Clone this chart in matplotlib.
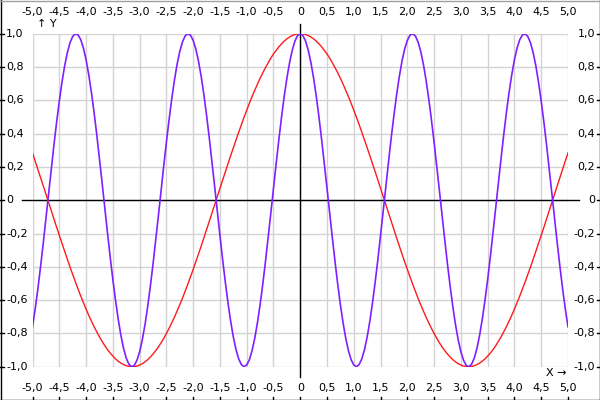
import numpy as np
import matplotlib
matplotlib.use('Agg')
import matplotlib.pyplot as plt
from matplotlib.transforms import blended_transform_factory
from matplotlib.lines import Line2D

# sample positions along x
x = np.linspace(-5, 5, 201)

# red curve (x = -5.00 ... 5.00, step 0.05)
red_y = [
    0.284, 0.235, 0.187, 0.137, 0.087, 0.038, -0.012, -0.063, -0.112, -0.162,
    -0.211, -0.259, -0.307, -0.355, -0.401, -0.446, -0.490, -0.533, -0.575, -0.615,
    -0.654, -0.691, -0.726, -0.760, -0.791, -0.821, -0.848, -0.874, -0.897, -0.918,
    -0.936, -0.953, -0.967, -0.978, -0.987, -0.994, -0.998, -1.000, -0.999, -0.996,
    -0.990, -0.982, -0.971, -0.958, -0.942, -0.924, -0.904, -0.882, -0.857, -0.830,
    -0.801, -0.770, -0.737, -0.703, -0.666, -0.628, -0.589, -0.547, -0.505, -0.461,
    -0.416, -0.370, -0.323, -0.276, -0.227, -0.178, -0.129, -0.079, -0.029, 0.021,
    0.071, 0.121, 0.170, 0.219, 0.267, 0.315, 0.362, 0.408, 0.454, 0.498,
    0.540, 0.582, 0.622, 0.660, 0.697, 0.732, 0.765, 0.796, 0.825, 0.853,
    0.878, 0.900, 0.921, 0.939, 0.955, 0.969, 0.980, 0.989, 0.995, 0.999,
    1.000, 0.999, 0.995, 0.989, 0.980, 0.969, 0.955, 0.939, 0.921, 0.900,
    0.878, 0.853, 0.825, 0.796, 0.765, 0.732, 0.697, 0.660, 0.622, 0.582,
    0.540, 0.498, 0.454, 0.408, 0.362, 0.315, 0.267, 0.219, 0.170, 0.121,
    0.071, 0.021, -0.029, -0.079, -0.129, -0.178, -0.227, -0.276, -0.323, -0.370,
    -0.416, -0.461, -0.505, -0.547, -0.589, -0.628, -0.666, -0.703, -0.737, -0.770,
    -0.801, -0.830, -0.857, -0.882, -0.904, -0.924, -0.942, -0.958, -0.971, -0.982,
    -0.990, -0.996, -0.999, -1.000, -0.998, -0.994, -0.987, -0.978, -0.967, -0.953,
    -0.936, -0.918, -0.897, -0.874, -0.848, -0.821, -0.791, -0.760, -0.726, -0.691,
    -0.654, -0.615, -0.575, -0.533, -0.490, -0.446, -0.401, -0.355, -0.307, -0.259,
    -0.211, -0.162, -0.112, -0.063, -0.012, 0.038, 0.087, 0.137, 0.187, 0.235,
    0.284,
]

# purple curve, same x positions
purple_y = [
    -0.760, -0.654, -0.533, -0.401, -0.260, -0.113, 0.037, 0.186, 0.331, 0.468,
    0.594, 0.708, 0.806, 0.885, 0.945, 0.983, 0.999, 0.993, 0.965, 0.915,
    0.844, 0.754, 0.648, 0.527, 0.394, 0.251, 0.104, -0.046, -0.195, -0.339,
    -0.476, -0.600, -0.713, -0.810, -0.889, -0.948, -0.985, -1.000, -0.992, -0.962,
    -0.911, -0.839, -0.749, -0.641, -0.519, -0.386, -0.243, -0.096, 0.054, 0.203,
    0.347, 0.482, 0.608, 0.720, 0.816, 0.893, 0.950, 0.986, 1.000, 0.991,
    0.960, 0.908, 0.835, 0.743, 0.635, 0.512, 0.378, 0.235, 0.087, -0.063,
    -0.211, -0.355, -0.490, -0.615, -0.726, -0.821, -0.897, -0.953, -0.987, -1.000,
    -0.990, -0.958, -0.904, -0.830, -0.737, -0.628, -0.505, -0.370, -0.227, -0.079,
    0.071, 0.219, 0.362, 0.498, 0.622, 0.732, 0.825, 0.900, 0.955, 0.989,
    1.000, 0.989, 0.955, 0.900, 0.825, 0.732, 0.622, 0.498, 0.362, 0.219,
    0.071, -0.079, -0.227, -0.370, -0.505, -0.628, -0.737, -0.830, -0.904, -0.958,
    -0.990, -1.000, -0.987, -0.953, -0.897, -0.821, -0.726, -0.615, -0.490, -0.355,
    -0.211, -0.063, 0.087, 0.235, 0.378, 0.512, 0.635, 0.743, 0.835, 0.908,
    0.960, 0.991, 1.000, 0.986, 0.950, 0.893, 0.816, 0.720, 0.608, 0.482,
    0.347, 0.203, 0.054, -0.096, -0.243, -0.386, -0.519, -0.641, -0.749, -0.839,
    -0.911, -0.962, -0.992, -1.000, -0.985, -0.948, -0.889, -0.810, -0.713, -0.600,
    -0.476, -0.339, -0.195, -0.046, 0.104, 0.251, 0.394, 0.527, 0.648, 0.754,
    0.844, 0.915, 0.965, 0.993, 0.999, 0.983, 0.945, 0.885, 0.806, 0.708,
    0.594, 0.468, 0.331, 0.186, 0.037, -0.113, -0.260, -0.401, -0.533, -0.654,
    -0.760,
]

x_ticks = [-5.0, -4.5, -4.0, -3.5, -3.0, -2.5, -2.0, -1.5, -1.0, -0.5, 0.0,
           0.5, 1.0, 1.5, 2.0, 2.5, 3.0, 3.5, 4.0, 4.5, 5.0]
x_labels = ['-5,0', '-4,5', '-4,0', '-3,5', '-3,0', '-2,5', '-2,0', '-1,5', '-1,0', '-0,5', '0',
            '0,5', '1,0', '1,5', '2,0', '2,5', '3,0', '3,5', '4,0', '4,5', '5,0']
y_ticks = [1.0, 0.8, 0.6, 0.4, 0.2, 0.0, -0.2, -0.4, -0.6, -0.8, -1.0]
y_labels = ['1,0', '0,8', '0,6', '0,4', '0,2', '0', '-0,2', '-0,4', '-0,6', '-0,8', '-1,0']

W, H = 600, 400
fig = plt.figure(figsize=(6, 4), dpi=100)
ax = fig.add_axes([32.5 / W, 33.3 / H, 535.5 / W, 333 / H])
ax.set_xlim(-5, 5)
ax.set_ylim(-1, 1)
for s in ax.spines.values():
    s.set_visible(False)
ax.set_xticks(x_ticks, labels=[])
ax.set_yticks(y_ticks, labels=[])
ax.tick_params(length=0)
ax.grid(color='#d3d3d3', lw=1)
ax.set_axisbelow(True)

tx = blended_transform_factory(ax.transData, fig.transFigure)
ty = blended_transform_factory(fig.transFigure, ax.transData)

# axes through the origin, sticking out a bit past the grid
ax.plot([22 / W, 579 / W], [0, 0], transform=ty, color='black', lw=1, clip_on=False, zorder=2)
ax.plot([0, 0], [1 - 24 / H, 1 - 377 / H], transform=tx, color='black', lw=1, clip_on=False, zorder=2)

ax.plot(x, red_y, color='#ff1a1a', lw=1, zorder=3)
ax.plot(x, purple_y, color='#7f1fff', lw=1.2, zorder=4)

# tick labels top/bottom and left/right
for xv, lab in zip(x_ticks, x_labels):
    ax.text(xv, 1 - 12 / H, lab, transform=tx, ha='center', va='center', fontsize=8)
    ax.text(xv, 1 - 388 / H, lab, transform=tx, ha='center', va='center', fontsize=8)
    ax.plot([xv, xv], [0.5 / H, 3.5 / H], transform=tx, color='black', lw=1, clip_on=False)
for yv, lab in zip(y_ticks, y_labels):
    ax.text(6 / W, yv, lab, transform=ty, ha='left', va='center', fontsize=8)
    ax.text(595 / W, yv, lab, transform=ty, ha='right', va='center', fontsize=8)
    ax.plot([0, 3.5 / W], [yv, yv], transform=ty, color='black', lw=1, clip_on=False)
    ax.plot([596.5 / W, 1], [yv, yv], transform=ty, color='black', lw=1, clip_on=False)

fig.text(37 / W, 1 - 24 / H, '\u2191 Y', ha='left', va='center', fontsize=8)
fig.text(566 / W, 1 - 373 / H, 'X \u2192', ha='right', va='center', fontsize=8)

# outer frame
fig.add_artist(Line2D([0.5 / W, 0.5 / W], [0, 1], transform=fig.transFigure, color='black', lw=1))
fig.add_artist(Line2D([1 - 0.5 / W, 1 - 0.5 / W], [0, 1], transform=fig.transFigure, color='black', lw=1))
fig.add_artist(Line2D([0, 1], [0.5 / H, 0.5 / H], transform=fig.transFigure, color='black', lw=1))
fig.add_artist(Line2D([0, 1], [1 - 0.5 / H, 1 - 0.5 / H], transform=fig.transFigure, color='#a0a0a0', lw=1))

fig.savefig('out.png', dpi=100)
